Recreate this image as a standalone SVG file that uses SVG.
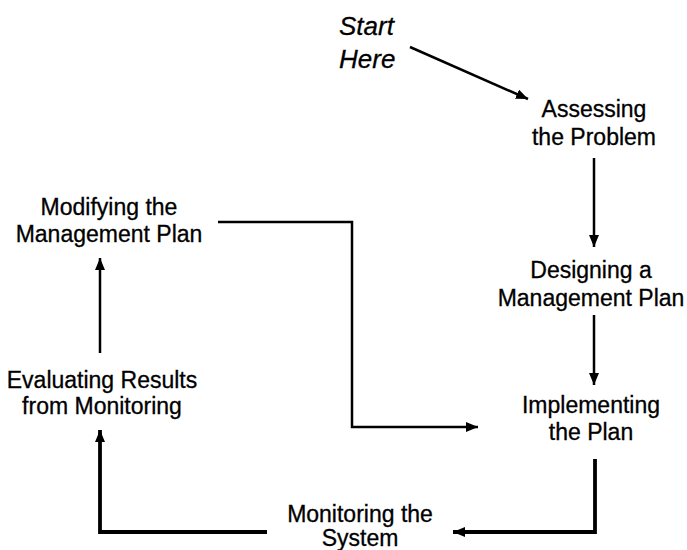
<svg xmlns="http://www.w3.org/2000/svg" width="687" height="550" viewBox="0 0 687 550">
  <style>
    .lbl { font-family: "Liberation Sans", Arial, sans-serif; font-size: 23px; fill: #000; stroke: #000; stroke-width: 0.3; text-anchor: middle; }
    .start { font-family: "Liberation Sans", Arial, sans-serif; font-size: 26px; font-style: italic; fill: #000; stroke: #000; stroke-width: 0.3; }
    .edge { fill: none; stroke: #000; stroke-width: 2.5; stroke-linejoin: miter; }
    .edge.heavy { stroke-width: 3.8; }
  </style>
  <defs>
    <marker id="arrow" markerUnits="userSpaceOnUse" viewBox="0 0 12 10" refX="12" refY="5" markerWidth="12" markerHeight="10" orient="auto">
      <path d="M0,0 L12,5 L0,10 Z" fill="#000"/>
    </marker>
  </defs>
  <rect width="687" height="550" fill="#fff"/>

  <g id="connectors">
    <line class="edge" x1="410" y1="47" x2="528" y2="99" marker-end="url(#arrow)"/>
    <line class="edge" x1="594" y1="158" x2="594" y2="247" marker-end="url(#arrow)"/>
    <line class="edge" x1="594" y1="315" x2="594" y2="385" marker-end="url(#arrow)"/>
    <path class="edge heavy" d="M595,459 V532 H453" marker-end="url(#arrow)"/>
    <path class="edge heavy" d="M267,532 H100 V430" marker-end="url(#arrow)"/>
    <line class="edge" x1="100" y1="353" x2="100" y2="258" marker-end="url(#arrow)"/>
    <path class="edge" d="M218,222 H352 V427 H478" marker-end="url(#arrow)"/>
  </g>

  <g id="start">
    <text class="start" x="339" y="35">Start</text>
    <text class="start" x="339" y="68">Here</text>
  </g>
  <g id="assessing">
    <text class="lbl" x="594" y="117">Assessing</text>
    <text class="lbl" x="594" y="145">the Problem</text>
  </g>
  <g id="designing">
    <text class="lbl" x="591" y="278">Designing a</text>
    <text class="lbl" x="591" y="306">Management Plan</text>
  </g>
  <g id="implementing">
    <text class="lbl" x="591" y="413">Implementing</text>
    <text class="lbl" x="591" y="440">the Plan</text>
  </g>
  <g id="monitoring">
    <text class="lbl" x="360" y="522">Monitoring the</text>
    <text class="lbl" x="360" y="546">System</text>
  </g>
  <g id="evaluating">
    <text class="lbl" x="102" y="388">Evaluating Results</text>
    <text class="lbl" x="102" y="414">from Monitoring</text>
  </g>
  <g id="modifying">
    <text class="lbl" x="109" y="215">Modifying the</text>
    <text class="lbl" x="109" y="242">Management Plan</text>
  </g>
</svg>
